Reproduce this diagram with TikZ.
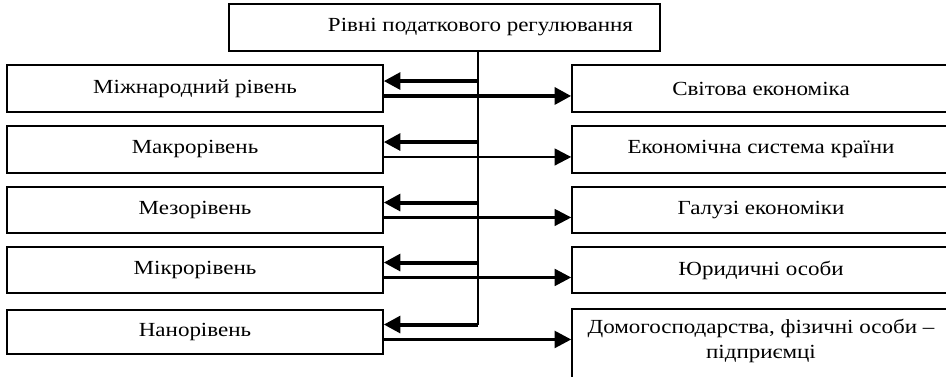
\documentclass[tikz,border=0pt]{standalone}
\usepackage{fontspec}
\setmainfont{Liberation Serif}[FakeStretch=1.15]
\usetikzlibrary{arrows.meta}
\begin{document}
\begin{tikzpicture}[x=0.75pt,y=-0.75pt,
  box/.style={draw, line width=1.1pt, inner sep=0pt, font=\fontsize{15}{18.75}\selectfont},
  lbox/.style={box, minimum width=282pt},
  rbox/.style={box, minimum width=283.5pt},
  txt/.style={inner sep=0pt, align=center, font=\fontsize{15}{18.75}\selectfont},
  trunk/.style={line width=1.1pt},
  larr/.style={line width=3pt, -{Triangle[length=12.5pt,width=12.5pt]}},
  rarr/.style={-{Triangle[length=12.5pt,width=12.5pt]}}]
\clip (0,0) rectangle (946,376);
\coordinate (tx) at (478,0);
% top box
\node[box, minimum width=323.25pt, minimum height=35.25pt] (top) at (444.5,27.5) {\hspace*{54pt}Рівні податкового регулювання};
% left boxes
\node[lbox, minimum height=35.25pt] (L1) at (195,88.5) {Міжнародний рівень};
\node[lbox, minimum height=35.25pt] (L2) at (195,149.5) {Макрорівень};
\node[lbox, minimum height=34.5pt] (L3) at (195,210) {Мезорівень};
\node[lbox, minimum height=34.5pt] (L4) at (195,270) {Мікрорівень};
\node[lbox, minimum height=33pt] (L5) at (195,332) {Нанорівень};
% right boxes
\node[rbox, minimum height=35.25pt] (R1) at (761,88.5) {Світова економіка};
\node[rbox, minimum height=35.25pt] (R2) at (761,149.5) {Економічна система країни};
\node[rbox, minimum height=34.5pt] (R3) at (761,210) {Галузі економіки};
\node[rbox, minimum height=34.5pt] (R4) at (761,270) {Юридичні особи};
\node[rbox, minimum height=68.25pt] (R5) at (761,354.5) {};
\node[txt] (R5t) at (761,341) {Домогосподарства, фізичні особи –\\підприємці};
% arrow coordinates
\foreach \i in {1,...,5}{
  \coordinate (a\i) at ([yshift=5.6pt]L\i.east);
  \coordinate (b\i) at ([yshift=-5.6pt]L\i.east);
}
% trunk
\draw[trunk] (top.south -| tx) -- (a5 -| tx);
% left arrows
\foreach \i in {1,...,5}{
  \draw[larr] (a\i -| tx) -- (a\i);
}
% right arrows
\draw[rarr, line width=3.5pt] (b1) -- (b1 -| R1.west);
\draw[rarr, line width=1.8pt] (b2) -- (b2 -| R2.west);
\draw[rarr, line width=1.8pt] (b3) -- (b3 -| R3.west);
\draw[rarr, line width=2.3pt] (b4) -- (b4 -| R4.west);
\draw[rarr, line width=2.5pt] (b5) -- (b5 -| R5.west);
\end{tikzpicture}
\end{document}
